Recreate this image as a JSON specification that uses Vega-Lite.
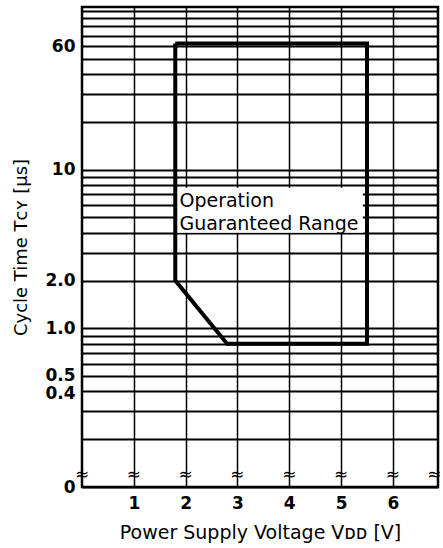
{
  "$schema": "https://vega.github.io/schema/vega-lite/v6.json",
  "width": 356,
  "height": 480,
  "autosize": "none",
  "padding": {"left": 82, "top": 7, "right": 5, "bottom": 61},
  "background": "white",
  "config": {
    "view": {"stroke": "black", "strokeWidth": 2.5},
    "font": "DejaVu Sans"
  },
  "datasets": {
    "boundary": [
      {"v": 1.8, "t": 62.5, "o": 1},
      {"v": 5.5, "t": 62.5, "o": 2},
      {"v": 5.5, "t": 0.8, "o": 3},
      {"v": 2.8, "t": 0.8, "o": 4},
      {"v": 1.8, "t": 2.0, "o": 5},
      {"v": 1.8, "t": 62.5, "o": 6}
    ],
    "labelbox": [{"v": 1.8, "v2": 5.42, "t": 4.0, "t2": 7.7}],
    "label": [{"v": 1.88, "t": 5.82, "text": "Operation\nGuaranteed Range"}],
    "breaks": [
      {"v": 0, "t": 0.119}, {"v": 1, "t": 0.119}, {"v": 2, "t": 0.119}, {"v": 3, "t": 0.119},
      {"v": 4, "t": 0.119}, {"v": 5, "t": 0.119}, {"v": 6, "t": 0.119}, {"v": 6.8, "t": 0.119}
    ]
  },
  "layer": [
    {
      "data": {"name": "labelbox"},
      "mark": {"type": "rect", "fill": "white", "stroke": null},
      "encoding": {
        "x": {
          "field": "v", "type": "quantitative",
          "scale": {"domain": [0, 6.87], "nice": false, "zero": false},
          "axis": {
            "values": [1, 2, 3, 4, 5, 6],
            "grid": true, "gridColor": "black", "gridWidth": 1.5, "gridOpacity": 1,
            "ticks": false, "domain": false,
            "labelFont": "DejaVu Sans", "labelFontWeight": "bold", "labelFontSize": 17,
            "labelColor": "black", "labelPadding": 8,
            "title": "Power Supply Voltage Vᴅᴅ [V]",
            "titleFont": "DejaVu Sans", "titleFontWeight": "normal", "titleFontSize": 19,
            "titleColor": "black", "titlePadding": 12
          }
        },
        "x2": {"field": "v2"},
        "y": {
          "field": "t", "type": "quantitative",
          "scale": {"type": "log", "domain": [0.1, 106], "nice": false},
          "axis": {
            "values": [0.1, 0.2, 0.3, 0.4, 0.5, 0.6, 0.7, 0.8, 0.9, 1, 2, 3, 4, 5, 6, 7, 8, 9, 10, 20, 30, 40, 50, 60, 70, 80, 90, 100],
            "labelExpr": "datum.value == 60 ? '60' : datum.value == 10 ? '10' : datum.value == 2 ? '2.0' : datum.value == 1 ? '1.0' : datum.value == 0.5 ? '0.5' : datum.value == 0.4 ? '0.4' : datum.value == 0.1 ? '0' : ''",
            "labelOffset": {"expr": "datum.value == 0.4 ? 2 : datum.value == 0.5 ? -1 : 0"},
            "labelOverlap": false, "labelBound": false,
            "grid": true, "gridColor": "black", "gridWidth": 2, "gridOpacity": 1,
            "ticks": false, "domain": false,
            "labelFont": "DejaVu Sans", "labelFontWeight": "bold", "labelFontSize": 17,
            "labelColor": "black", "labelPadding": 7,
            "title": "Cycle Time Tᴄʏ [μs]",
            "titleFont": "DejaVu Sans", "titleFontWeight": "normal", "titleFontSize": 18,
            "titleColor": "black", "titlePadding": 14
          }
        },
        "y2": {"field": "t2"}
      }
    },
    {
      "data": {"name": "boundary"},
      "mark": {"type": "line", "color": "black", "strokeWidth": 4, "strokeJoin": "miter"},
      "encoding": {
        "x": {"field": "v", "type": "quantitative"},
        "y": {"field": "t", "type": "quantitative"},
        "order": {"field": "o"}
      }
    },
    {
      "data": {"name": "label"},
      "mark": {"type": "text", "align": "left", "baseline": "alphabetic", "fontSize": 19, "font": "DejaVu Sans", "color": "black", "lineBreak": "\n", "lineHeight": 23},
      "encoding": {
        "x": {"field": "v", "type": "quantitative"},
        "y": {"field": "t", "type": "quantitative"},
        "text": {"field": "text"}
      }
    },
    {
      "data": {"name": "breaks"},
      "mark": {"type": "text", "align": "center", "baseline": "middle", "fontSize": 17, "font": "DejaVu Sans", "color": "black"},
      "encoding": {
        "x": {"field": "v", "type": "quantitative"},
        "y": {"field": "t", "type": "quantitative"},
        "text": {"value": "≈"}
      }
    }
  ]
}
